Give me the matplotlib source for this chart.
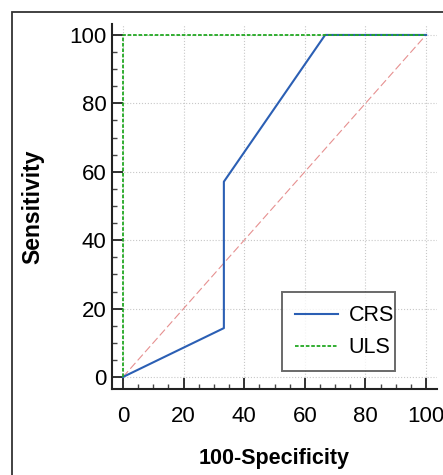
import matplotlib
matplotlib.use("Agg")
import matplotlib.pyplot as plt
from matplotlib.patches import Rectangle
from matplotlib.ticker import MultipleLocator

crs_x = [0, 33.3, 33.3, 66.7, 100]
crs_y = [0, 14.3, 57.1, 100, 100]
uls_x = [0, 0, 100]
uls_y = [0, 100, 100]
ref_x = [0, 100]
ref_y = [0, 100]
ticks = [0, 20, 40, 60, 80, 100]

plt.rcParams['font.family'] = ['Liberation Sans', 'DejaVu Sans']

fig = plt.figure(figsize=(4.43, 4.75), dpi=100)
fig.patches.append(Rectangle((12/443, -0.1), 1.2, (475-12)/475 + 0.1, transform=fig.transFigure,
                             fill=False, edgecolor='#333333', linewidth=1.3))
ax = fig.add_axes([112/443, 1-389/475, (437-112)/443, (389-24)/475])
ax.set_xlim(-3.6, 103.6)
ax.set_ylim(-3.5, 103.2)

ax.plot(ref_x, ref_y, color='#e69090', linestyle=(0, (7, 3)), linewidth=0.8, zorder=2)
ax.plot(crs_x, crs_y, color='#2b5fb4', linewidth=1.5, label='CRS', zorder=3)
ax.plot(uls_x, uls_y, color='#22a822', linestyle=(0, (2, 1)), linewidth=1.3, label='ULS', zorder=4)

ax.set_xticks(ticks)
ax.set_yticks(ticks)
ax.xaxis.set_minor_locator(MultipleLocator(5))
ax.yaxis.set_minor_locator(MultipleLocator(5))
ax.tick_params(axis='both', which='major', direction='in', length=8, width=1.3,
               labelsize=16, color='#222222')
ax.tick_params(axis='y', which='major', pad=4)
ax.tick_params(axis='x', which='major', pad=12.5)
ax.tick_params(axis='both', which='minor', direction='in', length=3.8, width=1.0, color='#444444')
ax.grid(True, which='major', color='#c8c8c8', linestyle=':', linewidth=0.8)

for s in ['top', 'right']:
    ax.spines[s].set_visible(False)
for s in ['left', 'bottom']:
    ax.spines[s].set_linewidth(1.5)
    ax.spines[s].set_color('#222222')

ax.set_xlabel('100-Specificity', fontsize=15.5, fontweight='bold', labelpad=15)
ax.set_ylabel('Sensitivity', fontsize=16.5, fontweight='bold', labelpad=18)

leg = ax.legend(loc='lower left', bbox_to_anchor=(0.523, 0.0493, 0.3477, 0.2277), mode='expand',
                borderaxespad=0, fontsize=15.5, frameon=True,
                fancybox=False, edgecolor='#444444', handlelength=2.0, borderpad=0.6,
                labelspacing=0.5, handletextpad=0.5)
leg.get_frame().set_linewidth(1.4)

fig.savefig('out.png', dpi=100)
